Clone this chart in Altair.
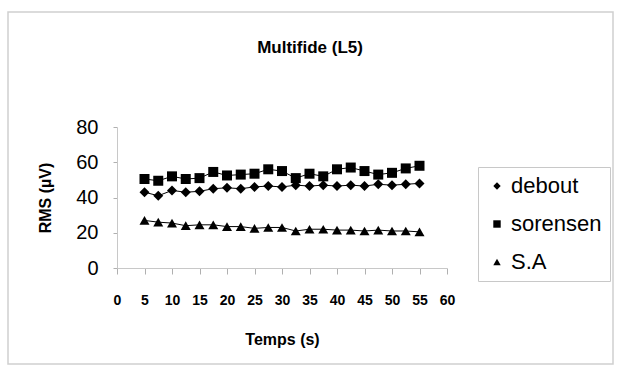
import altair as alt
import pandas as pd

# Time points (s) and RMS values (µV) for each posture
temps = [5, 7.5, 10, 12.5, 15, 17.5, 20, 22.5, 25, 27.5, 30,
         32.5, 35, 37.5, 40, 42.5, 45, 47.5, 50, 52.5, 55]
debout = [43, 41, 44, 43, 43.5, 45, 45.5, 45, 46, 46.5, 46,
          47, 46.5, 47, 46.5, 47, 46.5, 47.5, 47, 47.5, 48]
sorensen = [50.5, 49.5, 52, 50.5, 51, 54.5, 52.5, 53, 53.5, 56, 55,
            51, 53.5, 52, 56, 57, 55, 53, 54, 56.5, 58]
sa = [27, 26, 25.5, 24, 24.5, 24.5, 23.5, 23.5, 22.5, 23, 23,
      21, 22, 22, 21.5, 21.5, 21, 21.5, 21, 21, 20.5]

series = ["debout", "sorensen", "S.A"]
shapes = ["diamond", "square", "triangle-up"]
x_ticks = list(range(0, 61, 5))
y_ticks = [0, 20, 40, 60, 80]

rows = []
for name, vals in zip(series, [debout, sorensen, sa]):
    for t, v in zip(temps, vals):
        rows.append({"Temps": t, "RMS": v, "serie": name})
df = pd.DataFrame(rows)

FONT = "Liberation Sans"

x_enc = alt.X("Temps:Q",
              scale=alt.Scale(domain=[0, 60], nice=False),
              axis=alt.Axis(values=x_ticks, title="Temps (s)",
                            labelFontWeight="bold", labelFontSize=14,
                            labelPadding=19, tickSize=6, grid=False,
                            labelOverlap=False, labelFlush=False,
                            titleFontSize=16, titlePadding=24,
                            domainColor="#c8c8c8", tickColor="#b0b0b0",
                            labelColor="black", titleColor="black"))
y_enc = alt.Y("RMS:Q",
              scale=alt.Scale(domain=[0, 80], nice=False),
              axis=alt.Axis(values=y_ticks, title="RMS (µV)",
                            labelFontSize=20, labelFontWeight="normal",
                            labelPadding=15, tickSize=4, grid=False,
                            labelOverlap=False, labelFlush=False,
                            titleFontSize=16, titlePadding=22,
                            domainColor="#c8c8c8", tickColor="#b0b0b0",
                            labelColor="black", titleColor="black"))

base = alt.Chart(df).encode(x=x_enc, y=y_enc)

lines = base.mark_line(color="black", strokeWidth=1).encode(detail="serie:N")

points = base.mark_point(filled=True, color="black", opacity=1, size=100).encode(
    shape=alt.Shape("serie:N",
                    scale=alt.Scale(domain=series, range=shapes),
                    legend=alt.Legend(title=None, orient="none",
                                      legendX=361, legendY=40,
                                      labelFontSize=22, labelColor="black",
                                      symbolFillColor="black",
                                      symbolStrokeColor="black",
                                      symbolSize=55, rowPadding=16,
                                      padding=8, strokeColor="#c8c8c8",
                                      labelOffset=3)))

# Chart-area frame
frame = alt.Chart(pd.DataFrame({"a": [0]})).mark_rect(
    filled=False, stroke="#d0d0d0", strokeWidth=1.5).encode(
    x=alt.value(-109), x2=alt.value(496),
    y=alt.value(-115), y2=alt.value(237))

chart = alt.layer(frame, lines, points).properties(
    width=330, height=141,
    title=alt.TitleParams("Multifide (L5)", fontSize=17, fontWeight="bold",
                          font=FONT, anchor="middle", offset=-42, dx=28,
                          dy=4, color="black"),
    padding={"left": 117, "top": 127, "right": 173, "bottom": 107},
    autosize=alt.AutoSizeParams(type="none"),
).configure(font=FONT).configure_view(stroke=None)

chart.save("out.html", embed_options={"renderer": "svg", "actions": False})
